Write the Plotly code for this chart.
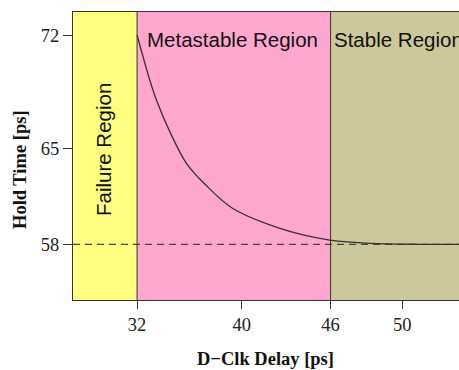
import numpy as np
import plotly.graph_objects as go

# ---------------- data ----------------
delay_ps = [32.0, 32.97, 33.48, 34.50, 35.77, 37.25, 39.31, 41.89, 44.14, 45.95, 48.2, 51.0, 53.5]
hold_ps = [72.0, 69.22, 67.99, 66.03, 63.91, 62.32, 60.61, 59.41, 58.68, 58.31, 58.07, 58.0, 58.0]
nominal_hold_ps = 58.0
region_bounds_ps = [32, 46]
region_names = ["Failure Region", "Metastable Region", "Stable Region"]
x_tick_ps = [32, 40, 46, 50]
y_tick_ps = [58, 65, 72]

# ---------------- scales (labelled ticks are not evenly spaced) ----------------
x_tick_axis = [32.0, 40.0, 46.775, 52.244]
y_tick_axis = [58.0, 65.0, 73.26]
X_RANGE = [27.11, 56.58]
Y_RANGE = [53.94, 74.94]


def scale(vals, ticks, pos):
    vals = np.asarray(vals, dtype=float)
    out = np.interp(vals, ticks, pos)
    lo = (pos[1] - pos[0]) / (ticks[1] - ticks[0])
    hi = (pos[-1] - pos[-2]) / (ticks[-1] - ticks[-2])
    out = np.where(vals < ticks[0], pos[0] + (vals - ticks[0]) * lo, out)
    out = np.where(vals > ticks[-1], pos[-1] + (vals - ticks[-1]) * hi, out)
    return out


def sx(v):
    return scale(v, x_tick_ps, x_tick_axis)


def sy(v):
    return scale(v, y_tick_ps, y_tick_axis)


W, H = 459, 370
ML, MR, MT, MB = 73, 0, 12, 70
PW, PH = W - ML - MR, H - MT - MB


def px_x(p):
    return (p - ML) / PW


def px_y(p):
    return (H - MB - p) / PH


SERIF = "Liberation Serif, Times New Roman, serif"
SANS = "Liberation Sans, Arial, sans-serif"
LINE = "#333333"

fills = ["#FFFF80", "#FFA6CF", "#CCC89B"]
edges = [X_RANGE[0], float(sx(region_bounds_ps[0])), float(sx(region_bounds_ps[1])), X_RANGE[1]]

shapes = []
for i in range(3):
    shapes.append(dict(type="rect", xref="x", yref="paper", x0=edges[i], x1=edges[i + 1],
                       y0=0, y1=1, fillcolor=fills[i], line=dict(width=0), layer="below"))
shapes.append(dict(type="line", xref="paper", yref="y", x0=0, x1=1,
                   y0=float(sy(nominal_hold_ps)), y1=float(sy(nominal_hold_ps)),
                   line=dict(color="#444444", width=1.2, dash="7px,5px"), layer="below"))
for b in region_bounds_ps:
    shapes.append(dict(type="line", xref="x", yref="paper", x0=float(sx(b)), x1=float(sx(b)),
                       y0=0, y1=1, line=dict(color=LINE, width=1), layer="below"))

fig = go.Figure()
fig.add_trace(go.Scatter(x=sx(delay_ps), y=sy(hold_ps), mode="lines",
                         line=dict(color=LINE, width=1.3, shape="spline", smoothing=1.0),
                         hoverinfo="skip", showlegend=False))

annotations = [
    dict(text=region_names[0], x=px_x(103), y=px_y(150), xref="paper", yref="paper",
         textangle=-90, showarrow=False, xanchor="center", yanchor="middle",
         font=dict(family=SANS, size=20.5, color="#111111")),
    dict(text=region_names[1], x=px_x(145), y=px_y(39), xref="paper", yref="paper",
         showarrow=False, xanchor="left", yanchor="middle",
         font=dict(family=SANS, size=20.5, color="#111111")),
    dict(text=region_names[2], x=px_x(332), y=px_y(39), xref="paper", yref="paper",
         showarrow=False, xanchor="left", yanchor="middle",
         font=dict(family=SANS, size=20.5, color="#111111")),
    dict(text="<b>D\u2212Clk Delay [ps]</b>", x=px_x(265), y=px_y(359), xref="paper", yref="paper",
         showarrow=False, xanchor="center", yanchor="middle",
         font=dict(family=SERIF, size=18.5, color="#111111")),
    dict(text="<b>Hold Time [ps]</b>", x=px_x(20), y=px_y(170), xref="paper", yref="paper",
         textangle=-90, showarrow=False, xanchor="center", yanchor="middle",
         font=dict(family=SERIF, size=18.5, color="#111111")),
]

fig.update_layout(
    width=W, height=H,
    margin=dict(l=ML, r=MR, t=MT, b=MB, pad=0),
    paper_bgcolor="white", plot_bgcolor="white",
    shapes=shapes, annotations=annotations,
    xaxis=dict(range=X_RANGE, tickvals=x_tick_axis, ticktext=[str(t) for t in x_tick_ps],
               showgrid=False, zeroline=False, showline=True, linecolor=LINE, linewidth=1,
               mirror=True, ticks="outside", ticklen=8, tickcolor=LINE, tickwidth=1,
               tickfont=dict(family=SERIF, size=18.5, color="#222222")),
    yaxis=dict(range=Y_RANGE, tickvals=y_tick_axis, ticktext=[str(t) for t in y_tick_ps],
               showgrid=False, zeroline=False, showline=True, linecolor=LINE, linewidth=1,
               ticks="outside", ticklen=9, tickcolor=LINE, tickwidth=1,
               tickfont=dict(family=SERIF, size=18.5, color="#222222")),
)

fig.write_html(
    "out.html",
    config={"displayModeBar": False, "staticPlot": True},
    post_script="document.body.style.margin='0px';document.body.style.overflow='hidden';",
)
